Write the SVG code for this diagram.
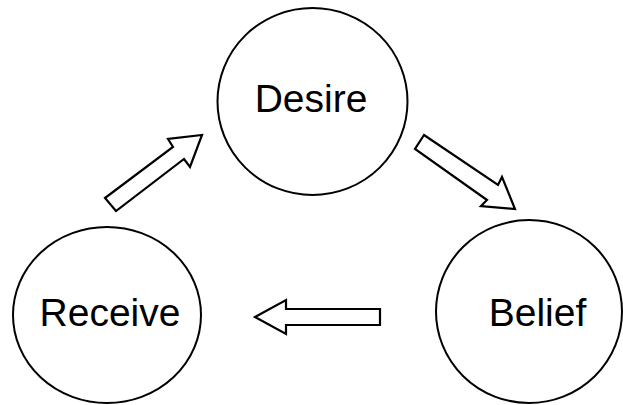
<svg xmlns="http://www.w3.org/2000/svg" width="623" height="405" viewBox="0 0 623 405">
<style>
.node{fill:#fff;stroke:#000;stroke-width:2}
.lbl{font-family:"Liberation Sans",Arial,sans-serif;font-size:39px;fill:#000;text-anchor:middle}
.arr{fill:#fff;stroke:#000;stroke-width:2.2;stroke-linejoin:miter}
</style>
<rect width="623" height="405" fill="#fff"/>
<g id="desire"><ellipse class="node" cx="312.5" cy="101.5" rx="95" ry="93.5"/><text class="lbl" x="311" y="112">Desire</text></g>
<g id="belief"><ellipse class="node" cx="529" cy="311.5" rx="93" ry="91.5"/><text class="lbl" x="537.5" y="326">Belief</text></g>
<g id="receive"><ellipse class="node" cx="107" cy="315" rx="94" ry="88"/><text class="lbl" x="110" y="326">Receive</text></g>
<g id="connectors">
<polygon class="arr" points="105,198 173,147 168,139 202,135 190,167 184,159 116,211"/>
<polygon class="arr" points="424,135 498,185 502,177 515,209 481,206 487,200 415,149"/>
<polygon class="arr" points="255,317 286,300 286,309 380,309 380,325 286,325 286,334"/>
</g>
</svg>
